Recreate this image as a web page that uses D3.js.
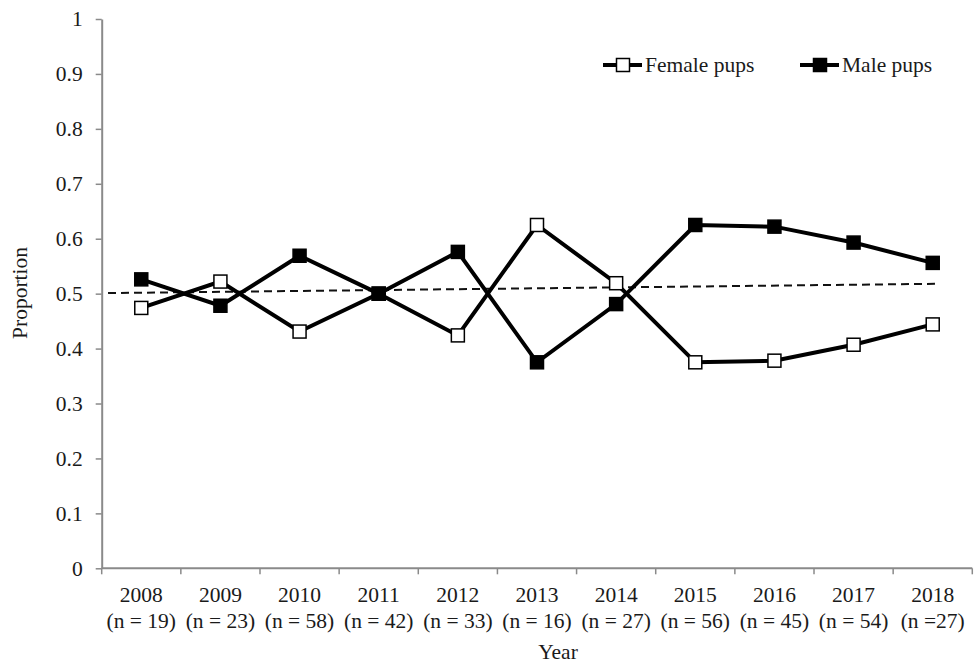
<!DOCTYPE html>
<html>
<head>
<meta charset="utf-8">
<script src="https://cdn.jsdelivr.net/npm/d3@7"></script>
<style>
  html, body { margin: 0; padding: 0; background: #fff; }
  svg { display: block; }
  text { font-family: "Liberation Serif", "Times New Roman", serif; fill: #1a1a1a; }
</style>
</head>
<body>
<svg id="chart" width="976" height="663"></svg>
<script>
// Sex ratio of pups per year
const years = [2008, 2009, 2010, 2011, 2012, 2013, 2014, 2015, 2016, 2017, 2018];
const sampleLabels = ["(n = 19)", "(n = 23)", "(n = 58)", "(n = 42)", "(n = 33)", "(n = 16)",
                      "(n = 27)", "(n = 56)", "(n = 45)", "(n = 54)", "(n =27)"];
const female = [0.474, 0.522, 0.431, 0.500, 0.424, 0.625, 0.519, 0.375, 0.378, 0.407, 0.444];
const male   = [0.526, 0.478, 0.569, 0.500, 0.576, 0.375, 0.481, 0.625, 0.622, 0.593, 0.556];
// linear trend (dashed), given as [year, proportion] end points
const trendYears  = [2007.58, 2018.08];
const trendValues = [0.501, 0.518];
const yTicks = [0, 0.1, 0.2, 0.3, 0.4, 0.5, 0.6, 0.7, 0.8, 0.9, 1];
const yTickLabels = ["0", "0.1", "0.2", "0.3", "0.4", "0.5", "0.6", "0.7", "0.8", "0.9", "1"];
const seriesNames = ["Female pups", "Male pups"];

const svg = d3.select("#chart");
const plotLeft = 101.7, plotRight = 972.3, plotTop = 19, plotBottom = 568.3;
const axisColor = "#8a8a8a";
const fontSize = 21.5;

const x = d3.scaleBand().domain(years).range([plotLeft, plotRight]).padding(0);
const xYear = d3.scaleLinear().domain([years[0] - 0.5, years[years.length - 1] + 0.5]).range([plotLeft, plotRight]);
const y = d3.scaleLinear().domain([0, 1]).range([plotBottom, plotTop]);

// y axis
const yAxis = d3.axisLeft(y).tickValues(yTicks).tickFormat((d, i) => yTickLabels[i])
  .tickSize(6).tickSizeOuter(0).tickPadding(13);
const gy = svg.append("g").attr("transform", `translate(${plotLeft},0)`).call(yAxis);
gy.select(".domain").attr("stroke", axisColor).attr("stroke-width", 2);
gy.selectAll(".tick line").attr("stroke", axisColor).attr("stroke-width", 1.5);
gy.selectAll(".tick text").attr("font-size", fontSize).attr("font-family", "Liberation Serif").attr("fill", "#1a1a1a");

// x axis: ticks at band boundaries
const boundaries = years.map(d => x(d)).concat([plotRight]);
const gx = svg.append("g");
gx.append("line").attr("x1", plotLeft).attr("x2", plotRight).attr("y1", plotBottom).attr("y2", plotBottom)
  .attr("stroke", axisColor).attr("stroke-width", 2);
gx.selectAll("line.tk").data(boundaries).join("line").attr("class", "tk")
  .attr("x1", d => d).attr("x2", d => d).attr("y1", plotBottom).attr("y2", plotBottom + 6)
  .attr("stroke", axisColor).attr("stroke-width", 1.5);
const lab = gx.selectAll("text.xl").data(years).join("text").attr("class", "xl")
  .attr("text-anchor", "middle").attr("font-size", fontSize);
lab.append("tspan").attr("x", d => x(d) + x.bandwidth() / 2).attr("y", 602).text(d => d);
lab.append("tspan").attr("x", d => x(d) + x.bandwidth() / 2).attr("y", 628).text((d, i) => sampleLabels[i]);

// axis titles
svg.append("text").attr("x", 558).attr("y", 659).attr("text-anchor", "middle")
  .attr("font-size", fontSize).text("Year");
svg.append("text").attr("transform", "translate(27,293) rotate(-90)").attr("text-anchor", "middle")
  .attr("font-size", fontSize).text("Proportion");

// dashed trend line
svg.append("line")
  .attr("x1", xYear(trendYears[0])).attr("y1", y(trendValues[0]))
  .attr("x2", xYear(trendYears[1])).attr("y2", y(trendValues[1]))
  .attr("stroke", "#111").attr("stroke-width", 2).attr("stroke-dasharray", "8,5");

// series lines and markers
const cx = d => x(d) + x.bandwidth() / 2;
const line = d3.line().x((d, i) => cx(years[i])).y(d => y(d));
const series = [
  { name: seriesNames[0], values: female, fill: "#fff" },
  { name: seriesNames[1], values: male, fill: "#000" }
];
series.forEach(s => {
  svg.append("path").datum(s.values).attr("d", line)
    .attr("fill", "none").attr("stroke", "#000").attr("stroke-width", 4).attr("stroke-linejoin", "miter");
});
const m = 13;
series.forEach(s => {
  svg.append("g").selectAll("rect").data(s.values).join("rect")
    .attr("x", (d, i) => cx(years[i]) - m / 2).attr("y", d => y(d) - m / 2)
    .attr("width", m).attr("height", m)
    .attr("fill", s.fill).attr("stroke", "#000").attr("stroke-width", 1.5);
});

// legend
const legendItems = [
  { s: series[0], x0: 603, text: 645 },
  { s: series[1], x0: 800, text: 842 }
];
const ly = 65;
legendItems.forEach(it => {
  const g = svg.append("g");
  g.append("line").attr("x1", it.x0).attr("x2", it.x0 + 39).attr("y1", ly).attr("y2", ly)
    .attr("stroke", "#000").attr("stroke-width", 4);
  g.append("rect").attr("x", it.x0 + 20 - m / 2).attr("y", ly - m / 2).attr("width", m).attr("height", m)
    .attr("fill", it.s.fill).attr("stroke", "#000").attr("stroke-width", 1.5);
  g.append("text").attr("x", it.text).attr("y", ly + 7).attr("font-size", fontSize).text(it.s.name);
});
</script>
</body>
</html>
